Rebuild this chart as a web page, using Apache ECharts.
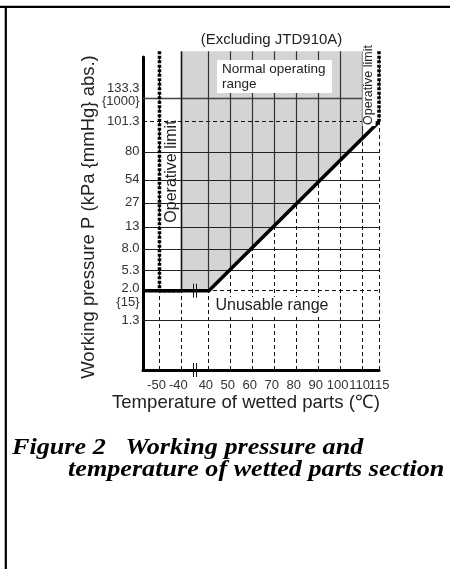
<!DOCTYPE html>
<html>
<head>
<meta charset="utf-8">
<script src="https://cdn.jsdelivr.net/npm/echarts@6/dist/echarts.min.js"></script>
<style>
html,body{margin:0;padding:0;background:#fff;}
#c{width:450px;height:569px;}
</style>
</head>
<body>
<div id="c"></div>
<script>
// ---------------- data ----------------
// x tick labels: temperature of wetted parts (°C)
const tempTicks = [-50, -40, 40, 50, 60, 70, 80, 90, 100, 110, 115];
// y tick labels: working pressure (kPa abs.)
const pressureTicks = [1.3, 2.0, 5.3, 8.0, 13, 27, 54, 80, 101.3, 133.3];
const pressureTickLabels = ['1.3', '2.0', '5.3', '8.0', '13', '27', '54', '80', '101.3', '133.3'];
// mmHg equivalents printed with some pressure labels
const mmHgNotes = { '133.3': '{1000}', '2.0': '{15}' };
// boundary between the normal operating range and the unusable range
const boundaryTemp = [40, 115];
const boundaryPressure = [2.0, 101.3];
// operative temperature limits
const operativeLimitTemp = [-50, 115];
// temperature span of the shaded normal operating range
const normalRangeTemp = [-40, 110];

// The figure is schematic: both axes are broken / not to scale, so every
// tick label sits on its own slot of the drawn axis (axis units, not pixels).
const tempTickSlot = [3, 7, 12, 16, 20, 24, 28, 32, 36, 40, 43];
const pressureTickSlot = [15.75, 25.34, 31.73, 38.56, 45.59, 53.26, 60.70, 69.55, 79.33, 86.68];

// ---------------- helpers ----------------
const FONT = '"Liberation Sans", Arial, Helvetica, sans-serif';
const SERIF = '"Liberation Serif", "Times New Roman", serif';
const X_MAX = 43, Y_MAX = 100, TOP = 101.8; // shaded area runs a little above the axis top
const tx = t => tempTickSlot[tempTicks.indexOf(t)];
const py = p => pressureTickSlot[pressureTicks.indexOf(p)];
const crisp = v => Math.round(v - 0.5) + 0.5;

function boundaryYAt(api, px) {
  const c1 = api.coord([tx(boundaryTemp[0]), py(boundaryPressure[0])]);
  const c2 = api.coord([tx(boundaryTemp[1]), py(boundaryPressure[1])]);
  if (px <= c1[0]) return c1[1];
  return c1[1] + (px - c1[0]) / (c2[0] - c1[0]) * (c2[1] - c1[1]);
}

const chart = echarts.init(document.getElementById('c'), null, { renderer: 'canvas' });

const boundaryData = [[0, py(boundaryPressure[0])]].concat(
  boundaryTemp.map((t, i) => [tx(t), py(boundaryPressure[i])])
);
const leftLimitData = [
  [tx(operativeLimitTemp[0]), TOP],
  [tx(operativeLimitTemp[0]), py(boundaryPressure[0])],
  [tx(normalRangeTemp[0]), py(boundaryPressure[0])]
];
const rightLimitData = [
  [tx(operativeLimitTemp[1]), TOP],
  [tx(operativeLimitTemp[1]), py(boundaryPressure[1])]
];
const breakSlot = (tx(-40) + tx(40)) / 2;
const tickFont = '13px ' + FONT;

const option = {
  animation: false,
  backgroundColor: '#fff',
  grid: { left: 143, right: 71, top: 57, bottom: 199, containLabel: false, outerBoundsMode: 'none' },
  xAxis: {
    type: 'value', min: 0, max: X_MAX,
    axisLine: { show: true, onZero: false, lineStyle: { color: '#000', width: 3 } },
    axisTick: { show: false }, splitLine: { show: false }, axisLabel: { show: false }
  },
  yAxis: {
    type: 'value', min: 0, max: Y_MAX,
    axisLine: { show: true, onZero: false, lineStyle: { color: '#000', width: 3 } },
    axisTick: { show: false }, splitLine: { show: false }, axisLabel: { show: false }
  },
  series: [
    // dashed vertical grid lines at every temperature tick
    {
      type: 'custom', name: 'vDashed', z: 1, silent: true, clip: false,
      data: tempTicks.map(t => [tx(t), 0]),
      renderItem: (params, api) => {
        const a = api.coord([api.value(0), 0]);
        const b = api.coord([api.value(0), Y_MAX]);
        const x = crisp(a[0]);
        return { type: 'line', shape: { x1: x, y1: a[1], x2: x, y2: b[1] },
          style: { stroke: '#111', lineWidth: 1, lineDash: [4, 3] } };
      }
    },
    // shaded normal operating range
    {
      type: 'custom', name: 'Normal operating range', z: 2, silent: true, clip: false,
      data: [[tx(normalRangeTemp[0]), TOP]],
      renderItem: (params, api) => {
        const xl = api.coord([tx(normalRangeTemp[0]), TOP]);
        const xr = api.coord([tx(normalRangeTemp[1]), TOP]);
        const c1 = api.coord([tx(boundaryTemp[0]), py(boundaryPressure[0])]);
        const floorY = c1[1];
        const pts = [
          [xl[0], xl[1]],
          [xl[0], floorY],
          [c1[0], floorY],
          [xr[0], boundaryYAt(api, xr[0])],
          [xr[0], xr[1]]
        ];
        return { type: 'polygon', shape: { points: pts }, style: { fill: '#d4d4d4' } };
      }
    },
    // horizontal lines at every pressure tick
    {
      type: 'custom', name: 'hLines', z: 3, silent: true, clip: false,
      data: pressureTicks.map(p => [0, py(p)]),
      renderItem: (params, api) => {
        const p = pressureTicks[params.dataIndex];
        const xEnd = p === 133.3 ? tx(normalRangeTemp[1]) : X_MAX;
        const a = api.coord([0, api.value(1)]);
        const b = api.coord([xEnd, api.value(1)]);
        const y = crisp(a[1]);
        const dashed = (p === boundaryPressure[0] || p === boundaryPressure[1]);
        return { type: 'line', shape: { x1: a[0], y1: y, x2: b[0], y2: y },
          style: dashed ? { stroke: '#111', lineWidth: 1, lineDash: [4, 3] }
                        : { stroke: p === 133.3 ? '#444' : '#222', lineWidth: p === 133.3 ? 1.6 : 1.2 } };
      }
    },
    // solid vertical lines inside the shaded range
    {
      type: 'custom', name: 'vSolid', z: 3, silent: true, clip: false,
      data: tempTicks.filter(t => t >= normalRangeTemp[0] && t <= normalRangeTemp[1]).map(t => [tx(t), 0]),
      renderItem: (params, api) => {
        const top = api.coord([api.value(0), TOP]);
        const x = crisp(top[0]);
        const yb = boundaryYAt(api, top[0]);
        const first = params.dataIndex === 0;
        return { type: 'line', shape: { x1: x, y1: top[1], x2: x, y2: yb },
          style: { stroke: first ? '#111' : '#333', lineWidth: first ? 1.6 : 1.2 } };
      }
    },
    // boundary of the unusable range
    {
      type: 'line', name: 'Boundary', z: 5, silent: true, clip: false,
      data: boundaryData, symbol: 'none',
      lineStyle: { color: '#000', width: 3.6, join: 'miter', cap: 'butt' }
    },
    // operative limits (heavy dotted)
    {
      type: 'line', name: 'Operative limit (low)', z: 6, silent: true, clip: false,
      data: leftLimitData, symbol: 'none',
      lineStyle: { color: '#000', width: 3.5, type: [3, 1.5] }
    },
    {
      type: 'line', name: 'Operative limit (high)', z: 6, silent: true, clip: false,
      data: rightLimitData, symbol: 'none',
      lineStyle: { color: '#000', width: 3.5, type: [3, 1.5] }
    },
    // axis-break marks
    {
      type: 'custom', name: 'breaks', z: 7, silent: true, clip: false,
      data: [[breakSlot, 0], [breakSlot, py(boundaryPressure[0])]],
      renderItem: (params, api) => {
        const c = api.coord([api.value(0), api.value(1)]);
        const x = Math.round(c[0]);
        const s = { stroke: '#111', lineWidth: 1 };
        return { type: 'group', children: [
          { type: 'line', shape: { x1: x - 1.5, y1: c[1] - 7, x2: x - 1.5, y2: c[1] + 7 }, style: s },
          { type: 'line', shape: { x1: x + 1.5, y1: c[1] - 7, x2: x + 1.5, y2: c[1] + 7 }, style: s }
        ] };
      }
    },
    // temperature tick labels
    {
      type: 'custom', name: 'xLabels', z: 8, silent: true, clip: false,
      data: tempTicks.map(t => [tx(t), 0]),
      renderItem: (params, api) => {
        const c = api.coord([api.value(0), 0]);
        const last = params.dataIndex === tempTicks.length - 1;
        return { type: 'text', x: c[0] + (last ? 0 : -3), y: c[1] + 15,
          style: { text: String(tempTicks[params.dataIndex]), font: tickFont, fill: '#333',
            align: 'center', verticalAlign: 'middle' } };
      }
    },
    // pressure tick labels (with mmHg equivalents)
    {
      type: 'custom', name: 'yLabels', z: 8, silent: true, clip: false,
      data: pressureTicks.map(p => [0, py(p)]),
      renderItem: (params, api) => {
        const c = api.coord([0, api.value(1)]);
        const lab = pressureTickLabels[params.dataIndex];
        const note = mmHgNotes[lab];
        const isTop = params.dataIndex === pressureTicks.length - 1;
        const base = { font: tickFont, fill: '#333', align: 'right', verticalAlign: 'middle' };
        const children = [{ type: 'text', x: c[0] - 3.5, y: c[1] + (note ? (isTop ? -10.5 : -2.5) : -0.5),
          style: Object.assign({ text: lab }, base) }];
        if (note) children.push({ type: 'text', x: c[0] - 3.5, y: c[1] + (isTop ? 2.5 : 12),
          style: Object.assign({ text: note }, base) });
        return { type: 'group', children };
      }
    }
  ],
  graphic: [
    { type: 'line', shape: { x1: 0, y1: 6.8, x2: 450, y2: 6.8 }, style: { stroke: '#000', lineWidth: 2.2 }, z: 100 },
    { type: 'line', shape: { x1: 5.8, y1: 6, x2: 5.8, y2: 569 }, style: { stroke: '#000', lineWidth: 2.2 }, z: 100 },
    { type: 'text', x: 271.5, y: 40, z: 100,
      style: { text: '(Excluding JTD910A)', font: '15px ' + FONT, fill: '#222', align: 'center', verticalAlign: 'middle' } },
    { type: 'rect', shape: { x: 217, y: 60, width: 115, height: 33 }, style: { fill: '#fff' }, z: 100 },
    { type: 'text', x: 222, y: 61.5, z: 101,
      style: { text: 'Normal operating\nrange', font: '13.5px ' + FONT, lineHeight: 15, fill: '#222', align: 'left', verticalAlign: 'top' } },
    { type: 'text', x: 272, y: 306, z: 100,
      style: { text: 'Unusable range', font: '16px ' + FONT, fill: '#222', align: 'center', verticalAlign: 'middle',
        backgroundColor: '#fff', padding: [1, 2] } },
    { type: 'text', x: 171.5, y: 171.5, rotation: Math.PI / 2, z: 100,
      style: { text: 'Operative limit', font: '16px ' + FONT, fill: '#222', align: 'center', verticalAlign: 'middle' } },
    { type: 'text', x: 369, y: 85, rotation: Math.PI / 2, z: 100,
      style: { text: 'Operative limit', font: '12.5px ' + FONT, fill: '#222', align: 'center', verticalAlign: 'middle',
        backgroundColor: '#fff', padding: [0, 1] } },
    { type: 'text', x: 246, y: 403, z: 100,
      style: { text: 'Temperature of wetted parts (℃)', font: '18.6px ' + FONT, fill: '#222', align: 'center', verticalAlign: 'middle' } },
    { type: 'text', x: 89, y: 217, rotation: Math.PI / 2, z: 100,
      style: { text: 'Working pressure P (kPa {mmHg} abs.)', font: '18.5px ' + FONT, fill: '#222', align: 'center', verticalAlign: 'middle' } },
    { type: 'text', x: 12, y: 448, z: 100, scaleX: 1.09,
      style: { text: 'Figure 2   Working pressure and', font: 'italic bold 24px ' + SERIF, fill: '#000', align: 'left', verticalAlign: 'middle' } },
    { type: 'text', x: 68, y: 470, z: 100, scaleX: 1.09,
      style: { text: 'temperature of wetted parts section', font: 'italic bold 24px ' + SERIF, fill: '#000', align: 'left', verticalAlign: 'middle' } }
  ]
};
chart.setOption(option);
</script>
</body>
</html>
